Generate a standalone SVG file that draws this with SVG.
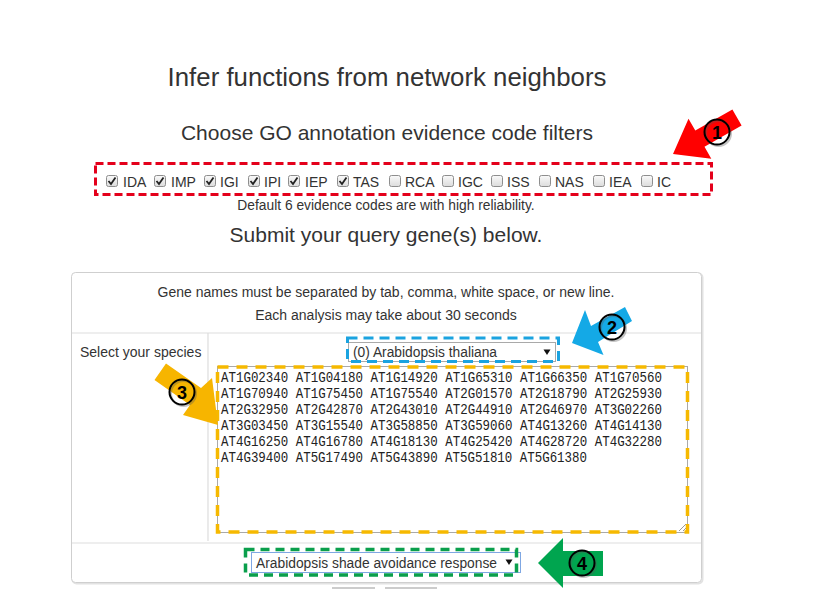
<svg xmlns="http://www.w3.org/2000/svg" width="837" height="611" viewBox="0 0 837 611">
<defs>
<style>
.sans{font-family:"Liberation Sans",Arial,sans-serif;fill:#333}
.h1{font-size:25.8px}
.h2{font-size:21px}
.t14{font-size:14px}
.t13{font-size:13.8px}
.mono{font-family:"Liberation Mono","DejaVu Sans Mono",monospace;font-size:14px;fill:#222}
.cb{fill:url(#cbg);stroke:#8e8e8e;stroke-width:1}
.chk{fill:none;stroke:#222;stroke-width:1.8}
.rule{stroke:#ddd;stroke-width:1.2}
.num{font-family:"Liberation Sans",Arial,sans-serif;font-weight:bold;font-size:18px;fill:#000;text-anchor:middle}
.ring{fill:none;stroke:#000;stroke-width:2}
.shadow{fill:none;stroke:#555;stroke-width:2;opacity:0.35}
</style>
<linearGradient id="cbg" x1="0" y1="0" x2="0" y2="1">
<stop offset="0" stop-color="#fafafa"/>
<stop offset="1" stop-color="#dcdcdc"/>
</linearGradient>
</defs>
<rect width="837" height="611" fill="#fff"/>

<g id="title"><text class="sans h1" x="387" y="86" text-anchor="middle">Infer functions from network neighbors</text></g>
<g id="filters-heading"><text class="sans h2" x="387" y="139.5" text-anchor="middle">Choose GO annotation evidence code filters</text></g>

<g id="filters">
<g id="cb-IDA"><rect class="cb" x="106.5" y="175.5" width="11" height="11" rx="2"/><path class="chk" d="M108.5 181 L111 184 L115.5 177.5"/><text class="sans t14" x="123" y="187">IDA</text></g>
<g id="cb-IMP"><rect class="cb" x="154.5" y="175.5" width="11" height="11" rx="2"/><path class="chk" d="M156.5 181 L159 184 L163.5 177.5"/><text class="sans t14" x="171" y="187">IMP</text></g>
<g id="cb-IGI"><rect class="cb" x="204.5" y="175.5" width="11" height="11" rx="2"/><path class="chk" d="M206.5 181 L209 184 L213.5 177.5"/><text class="sans t14" x="220" y="187">IGI</text></g>
<g id="cb-IPI"><rect class="cb" x="248.5" y="175.5" width="11" height="11" rx="2"/><path class="chk" d="M250.5 181 L253 184 L257.5 177.5"/><text class="sans t14" x="264" y="187">IPI</text></g>
<g id="cb-IEP"><rect class="cb" x="288.5" y="175.5" width="11" height="11" rx="2"/><path class="chk" d="M290.5 181 L293 184 L297.5 177.5"/><text class="sans t14" x="305" y="187">IEP</text></g>
<g id="cb-TAS"><rect class="cb" x="337.5" y="175.5" width="11" height="11" rx="2"/><path class="chk" d="M339.5 181 L342 184 L346.5 177.5"/><text class="sans t14" x="353" y="187">TAS</text></g>
<g id="cb-RCA"><rect class="cb" x="389.5" y="175.5" width="11" height="11" rx="2"/><text class="sans t14" x="405" y="187">RCA</text></g>
<g id="cb-IGC"><rect class="cb" x="442.5" y="175.5" width="11" height="11" rx="2"/><text class="sans t14" x="458" y="187">IGC</text></g>
<g id="cb-ISS"><rect class="cb" x="491.5" y="175.5" width="11" height="11" rx="2"/><text class="sans t14" x="507" y="187">ISS</text></g>
<g id="cb-NAS"><rect class="cb" x="539.5" y="175.5" width="11" height="11" rx="2"/><text class="sans t14" x="555" y="187">NAS</text></g>
<g id="cb-IEA"><rect class="cb" x="593.5" y="175.5" width="11" height="11" rx="2"/><text class="sans t14" x="609" y="187">IEA</text></g>
<g id="cb-IC"><rect class="cb" x="641.5" y="175.5" width="11" height="11" rx="2"/><text class="sans t14" x="657" y="187">IC</text></g>
<rect id="box-1" x="95.5" y="163.5" width="616" height="31" fill="none" stroke="#e4001b" stroke-width="3" stroke-dasharray="8 4"/>
</g>

<g id="note"><text class="sans t13" x="386" y="210" text-anchor="middle">Default 6 evidence codes are with high reliability.</text></g>
<g id="submit-heading"><text class="sans h2" x="386" y="241.5" text-anchor="middle">Submit your query gene(s) below.</text></g>

<g id="panel">
<rect x="72.5" y="273.5" width="630" height="310" rx="4" fill="none" stroke="#e2e2e2" stroke-width="2"/>
<rect x="71.5" y="272.5" width="630" height="310" rx="4" fill="#fff" stroke="#cfcfcf" stroke-width="1"/>
<text class="sans t14" x="386" y="297" text-anchor="middle">Gene names must be separated by tab, comma, white space, or new line.</text>
<text class="sans t14" x="386" y="320" text-anchor="middle">Each analysis may take about 30 seconds</text>
<line class="rule" x1="72" y1="333" x2="701" y2="333"/>
<line class="rule" x1="208" y1="333" x2="208" y2="541"/>
<line class="rule" x1="72" y1="543" x2="701" y2="543"/>
</g>

<g id="species-label"><text class="sans t14" x="80" y="357">Select your species</text></g>

<g id="species-select">
<rect x="348.5" y="342.5" width="207" height="19" fill="#fff" stroke="#a9a9a9"/>
<text class="sans t14" x="353" y="357" fill="#111" textLength="144" lengthAdjust="spacingAndGlyphs">(0) Arabidopsis thaliana</text>
<path d="M543.5 349.5 L550.5 349.5 L547 355 Z" fill="#111"/>
<rect id="box-2" x="347.5" y="338" width="211" height="23.5" fill="none" stroke="#1ba3e0" stroke-width="3" stroke-dasharray="10 6"/>
</g>

<g id="gene-textarea">
<rect x="217.5" y="366.5" width="470" height="166" fill="#fff" stroke="#a9a9a9"/>
<text class="mono" x="221" y="382" textLength="441" lengthAdjust="spacingAndGlyphs">AT1G02340 AT1G04180 AT1G14920 AT1G65310 AT1G66350 AT1G70560</text>
<text class="mono" x="221" y="398" textLength="441" lengthAdjust="spacingAndGlyphs">AT1G70940 AT1G75450 AT1G75540 AT2G01570 AT2G18790 AT2G25930</text>
<text class="mono" x="221" y="414" textLength="441" lengthAdjust="spacingAndGlyphs">AT2G32950 AT2G42870 AT2G43010 AT2G44910 AT2G46970 AT3G02260</text>
<text class="mono" x="221" y="430" textLength="441" lengthAdjust="spacingAndGlyphs">AT3G03450 AT3G15540 AT3G58850 AT3G59060 AT4G13260 AT4G14130</text>
<text class="mono" x="221" y="446" textLength="441" lengthAdjust="spacingAndGlyphs">AT4G16250 AT4G16780 AT4G18130 AT4G25420 AT4G28720 AT4G32280</text>
<text class="mono" x="221" y="462" textLength="366" lengthAdjust="spacingAndGlyphs">AT4G39400 AT5G17490 AT5G43890 AT5G51810 AT5G61380</text>
<path d="M679 531 L686 524 M683 531 L686 528" stroke="#999" stroke-width="1"/>
<rect id="box-3" x="217.5" y="367" width="470" height="165" fill="none" stroke="#f6b900" stroke-width="3.5" stroke-dasharray="11 8"/>
</g>

<g id="network-select">
<rect x="251.5" y="552.5" width="269" height="20" fill="#fff" stroke="#7fa7e3"/>
<text class="sans t14" x="256" y="568" fill="#111" textLength="241" lengthAdjust="spacingAndGlyphs">Arabidopsis shade avoidance response</text>
<path d="M505.5 559.5 L512.5 559.5 L509 565 Z" fill="#111"/>
<rect id="box-4" x="245.5" y="549.5" width="271" height="25.5" fill="none" stroke="#0a9f4c" stroke-width="3.5" stroke-dasharray="9 6"/>
</g>

<g id="buttons-edge">
<line x1="332" y1="588" x2="375" y2="588" stroke="#bbb" stroke-width="1.5"/>
<line x1="385" y1="588" x2="437" y2="588" stroke="#bbb" stroke-width="1.5"/>
</g>

<g id="connectors">
<polygon id="arrow-1" points="673,154 711.3,158.7 704.5,146.8 741.6,125.6 732.4,109.4 695.3,130.6 688.5,118.7" fill="#ff0000"/>
<polygon id="arrow-2" points="572,343 603.5,355 598,342 632,321 625,307 591,326 585,310" fill="#14a9e6"/>
<polygon id="arrow-3" points="218,425 212,378 201,388 166,363.5 154.5,380 190,405 183,415" fill="#f7b500"/>
<polygon id="arrow-4" points="538,563 563,538 563,551 603,551 603,576 563,576 563,588" fill="#00a54f"/>
</g>

<g id="badge-1"><circle class="shadow" cx="718.5" cy="133.5" r="12.5"/><circle class="ring" cx="717" cy="132" r="12.5"/><text class="num" x="717" y="138.5">1</text></g>
<g id="badge-2"><circle class="shadow" cx="613.5" cy="328.5" r="12.5"/><circle class="ring" cx="612" cy="327" r="12.5"/><text class="num" x="612" y="333.5">2</text></g>
<g id="badge-3"><circle class="shadow" cx="183.5" cy="393.5" r="12.5"/><circle class="ring" cx="182" cy="392" r="12.5"/><text class="num" x="182" y="398.5">3</text></g>
<g id="badge-4"><circle class="shadow" cx="583.5" cy="564.5" r="12.5"/><circle class="ring" cx="582" cy="563" r="12.5"/><text class="num" x="582" y="569.5">4</text></g>
</svg>
